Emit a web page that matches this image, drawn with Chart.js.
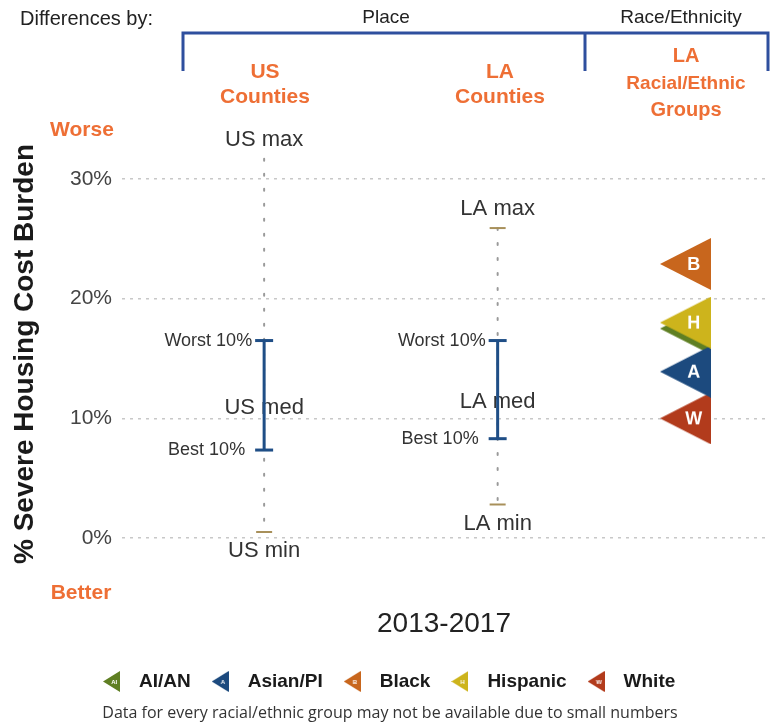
<!DOCTYPE html>
<html>
<head>
<meta charset="utf-8">
<script src="https://cdn.jsdelivr.net/npm/chart.js@4"></script>
<style>
  body { margin: 0; background: #fff; }
  canvas { display: block; }
</style>
</head>
<body>
<canvas id="grafico" width="778" height="725"></canvas>
<script>
// Values (% severe housing cost burden, 2013-2017)
const columnas = ["US", "LA"];
const maximos = [31.7, 25.9];
const peor10 = [16.5, 16.5];
const medianas = [10.9, 11.4];
const mejor10 = [7.35, 8.3];
const minimos = [0.5, 2.8];

const grupos = ["AI/AN", "White", "Asian/PI", "Hispanic", "Black"];
const letrasGrupo = ["AI", "W", "A", "H", "B"];
const valoresGrupo = [17.5, 10.0, 13.9, 18.0, 22.9];
const coloresGrupo = ["#5f7f23", "#b23b1c", "#1c4a7e", "#cdb41c", "#c8661d"];

const marcasY = [0, 10, 20, 30];
const ordenLeyenda = ["AI/AN", "Asian/PI", "Black", "Hispanic", "White"];

// x slots on a hidden 0..1 axis
const posX = { US: 0.2207, LA: 0.5833, grupos: 0.875 };

const naranja = "#ee6f35";
const azul = "#2e4f9e";
const azulBarra = "#1f4e86";
const fuente = "'Liberation Sans', Arial, sans-serif";

function triangulo(color, letra, w, h, tam) {
  const c = document.createElement("canvas");
  c.width = w;
  c.height = h;
  const g = c.getContext("2d");
  g.fillStyle = color;
  g.beginPath();
  g.moveTo(0, h / 2);
  g.lineTo(w, 0);
  g.lineTo(w, h);
  g.closePath();
  g.fill();
  g.fillStyle = "#fff";
  g.font = `bold ${tam}px ${fuente}`;
  g.textAlign = "center";
  g.textBaseline = "middle";
  g.fillText(letra, w * 0.66, h / 2 + 1);
  return c;
}

const imgsGrupo = grupos.map((g, i) => triangulo(coloresGrupo[i], letrasGrupo[i] === "AI" ? "" : letrasGrupo[i], 51, 52, 18));

const datasets = [];
// group triangles
datasets.push({
  type: "scatter",
  data: valoresGrupo.map(v => ({ x: posX.grupos, y: v })),
  pointStyle: imgsGrupo,
  clip: false
});
columnas.forEach((col, i) => {
  const x = posX[col];
  // 10th-90th percentile bar
  datasets.push({
    type: "line",
    data: [{ x, y: peor10[i] }, { x, y: mejor10[i] }],
    borderColor: azulBarra,
    borderWidth: 3,
    pointStyle: "line",
    pointRadius: 9,
    pointBorderWidth: 3,
    pointBorderColor: azulBarra,
    clip: false
  });
  // max / min ticks
  datasets.push({
    type: "scatter",
    data: [{ x, y: maximos[i] }, { x, y: minimos[i] }],
    pointStyle: "line",
    pointRadius: 8,
    pointBorderWidth: 2,
    pointBorderColor: "#a8905a",
    clip: false
  });
  // dotted full range
  datasets.push({
    type: "line",
    data: [{ x, y: maximos[i] }, { x, y: minimos[i] }],
    borderColor: "#9a9a9a",
    borderWidth: 2,
    borderDash: [2, 13],
    borderCapStyle: "round",
    pointRadius: 0,
    clip: false
  });
});

function txt(ctx, s, x, y, font, color, align) {
  ctx.font = font;
  ctx.fillStyle = color;
  ctx.textAlign = align || "center";
  ctx.fillText(s, x, y);
}

const textos = {
  id: "textos",
  beforeDatasetsDraw(chart) {
    const { ctx, scales } = chart;
    const sx = scales.x, sy = scales.y;
    ctx.save();
    ctx.textBaseline = "middle";
    columnas.forEach((col, i) => {
      const x = sx.getPixelForValue(posX[col]);
      const f = `22px ${fuente}`;
      txt(ctx, col + " max", x, sy.getPixelForValue(maximos[i]) - 19, f, "#333");
      txt(ctx, col + " min", x, sy.getPixelForValue(minimos[i]) + 19, f, "#333");
      txt(ctx, col + " med", x, sy.getPixelForValue(medianas[i]), f, "#333");
      txt(ctx, "Worst 10%", x - 12, sy.getPixelForValue(peor10[i]), `18px ${fuente}`, "#333", "right");
      txt(ctx, "Best 10%", x - 19, sy.getPixelForValue(mejor10[i]), `18px ${fuente}`, "#333", "right");
    });
    ctx.restore();
  },
  afterDraw(chart) {
    const { ctx } = chart;
    ctx.save();
    ctx.textBaseline = "middle";
    txt(ctx, "Differences by:", 20, 19, `20px ${fuente}`, "#222", "left");
    txt(ctx, "Place", 386, 18, `19px ${fuente}`, "#222");
    txt(ctx, "Race/Ethnicity", 681, 18, `19px ${fuente}`, "#222");

    // bracket
    ctx.strokeStyle = azul;
    ctx.lineWidth = 3;
    ctx.beginPath();
    ctx.moveTo(183, 71);
    ctx.lineTo(183, 33);
    ctx.lineTo(768, 33);
    ctx.lineTo(768, 71);
    ctx.moveTo(585, 33);
    ctx.lineTo(585, 71);
    ctx.stroke();

    const fn = `bold 21px ${fuente}`;
    txt(ctx, "US", 265, 72, fn, naranja);
    txt(ctx, "Counties", 265, 97, fn, naranja);
    txt(ctx, "LA", 500, 72, fn, naranja);
    txt(ctx, "Counties", 500, 97, fn, naranja);
    txt(ctx, "LA", 686, 56, `bold 20px ${fuente}`, naranja);
    txt(ctx, "Racial/Ethnic", 686, 84, `bold 19px ${fuente}`, naranja);
    txt(ctx, "Groups", 686, 110, `bold 20px ${fuente}`, naranja);

    txt(ctx, "Worse", 82, 130, `bold 21px ${fuente}`, naranja);
    txt(ctx, "Better", 81, 593, `bold 21px ${fuente}`, naranja);

    // y title
    ctx.save();
    ctx.translate(25, 354);
    ctx.rotate(-Math.PI / 2);
    txt(ctx, "% Severe Housing Cost Burden", 0, 0, `bold 28px ${fuente}`, "#1a1a1a");
    ctx.restore();

    txt(ctx, "2013-2017", 444, 624, `28px ${fuente}`, "#222");

    // legend
    let x = 103;
    ordenLeyenda.forEach(nombre => {
      const i = grupos.indexOf(nombre);
      const ic = triangulo(coloresGrupo[i], letrasGrupo[i], 17, 21, 6);
      ctx.drawImage(ic, x, 671);
      x += 17 + 19;
      txt(ctx, nombre, x, 682, `bold 19px ${fuente}`, "#1a1a1a", "left");
      x += ctx.measureText(nombre).width + 21;
    });

    txt(ctx, "Data for every racial/ethnic group may not be available due to small numbers", 390, 713,
      `16px 'Open Sans', sans-serif`, "#333");
    ctx.restore();
  }
};

new Chart(document.getElementById("grafico").getContext("2d"), {
  data: { datasets },
  options: {
    responsive: false,
    animation: false,
    events: [],
    layout: { padding: { top: 179, bottom: 187, left: 0, right: 8 } },
    plugins: { legend: { display: false }, tooltip: { enabled: false } },
    scales: {
      x: { type: "linear", min: 0, max: 1, display: false },
      y: {
        min: 0,
        max: 30,
        afterFit(scale) { scale.width = 122; },
        afterBuildTicks(scale) { scale.ticks = marcasY.map(v => ({ value: v })); },
        ticks: {
          callback: v => v + "%",
          color: "#444",
          font: { size: 21, family: fuente },
          padding: 10
        },
        grid: { color: "#c8c8c8", lineWidth: 1.5, drawTicks: false },
        border: { display: false, dash: [3, 5] }
      }
    }
  },
  plugins: [textos]
});
</script>
</body>
</html>
